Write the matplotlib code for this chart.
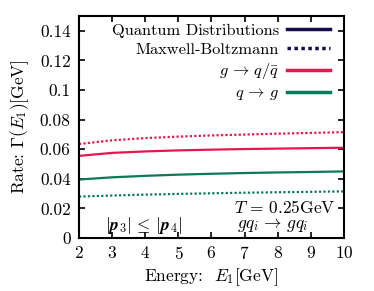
import matplotlib
matplotlib.use("Agg")
import matplotlib.pyplot as plt

plt.rcParams['font.family'] = 'serif'
plt.rcParams['font.serif'] = ['cmr10']
plt.rcParams['mathtext.fontset'] = 'cm'
plt.rcParams['axes.formatter.use_mathtext'] = True

# energies E1 [GeV]
energy = [2, 3, 4, 5, 6, 7, 8, 9, 10]
# g -> q/qbar
gq_quantum = [0.0555, 0.0575, 0.0585, 0.0592, 0.0597, 0.0601, 0.0604, 0.0607, 0.0610]
gq_mb = [0.0635, 0.0660, 0.0675, 0.0685, 0.0693, 0.0699, 0.0705, 0.0710, 0.0715]
# q -> g
qg_quantum = [0.0395, 0.0410, 0.0420, 0.0428, 0.0434, 0.0439, 0.0443, 0.0446, 0.0450]
qg_mb = [0.0280, 0.0287, 0.0293, 0.0298, 0.0302, 0.0306, 0.0309, 0.0312, 0.0315]

yticks = [0, 0.02, 0.04, 0.06, 0.08, 0.1, 0.12, 0.14]
ylabels = ['0', '0.02', '0.04', '0.06', '0.08', '0.1', '0.12', '0.14']

navy = '#170a4a'
red = '#e8164d'
green = '#0b7a55'
fs = 12.5
fs_small = 11.8

fig = plt.figure(figsize=(3.74, 2.91), dpi=100)
ax = fig.add_axes([79/374, 1 - 238/291, 265/374, 222/291])

ax.plot(energy, gq_quantum, color=red, lw=1.6)
ax.plot(energy, gq_mb, color=red, lw=1.6, ls=(0, (1, 1)))
ax.plot(energy, qg_quantum, color=green, lw=1.6)
ax.plot(energy, qg_mb, color=green, lw=1.6, ls=(0, (1, 1)))

# legend proxies
h1, = ax.plot([], [], color=navy, lw=2.5, label='Quantum Distributions')
h2, = ax.plot([], [], color=navy, lw=2.5, ls=(0, (1, 1)), label='Maxwell-Boltzmann')
h3, = ax.plot([], [], color=red, lw=2.5, label=r'$g\,\to\,q/\bar{q}$')
h4, = ax.plot([], [], color=green, lw=2.5, label=r'$q\,\to\,g$')
ax.legend(handles=[h1, h2, h3, h4], loc='upper right', frameon=False,
          markerfirst=False, fontsize=fs_small, handlelength=2.6,
          labelspacing=0.28, borderaxespad=0, handletextpad=0.5,
          borderpad=0.3, bbox_to_anchor=(0.965, 0.99))

ax.set_xlim(2, 10)
ax.set_ylim(0, 0.15)
ax.set_yticks(yticks)
ax.set_yticklabels(ylabels)
ax.set_xticks(energy)
ax.tick_params(direction='in', top=True, right=True, length=4, width=1.2,
               labelsize=fs, pad=6)
ax.tick_params(axis='x', pad=5)
for s in ax.spines.values():
    s.set_linewidth(1.5)

ax.text(9.75, 0.0205, r'$T\,=\,0.25$GeV', ha='right', va='center', fontsize=fs)
ax.text(6.77, 0.0085, r'$gq_i\,\to\,gq_i$', ha='left', va='center', fontsize=fs)
ax.text(2.78, 0.0085, r'$|\boldsymbol{p}_3|\,\leq\,|\boldsymbol{p}_4|$', ha='left',
        va='center', fontsize=fs)

ax.set_xlabel(r'Energy:  $E_1$[GeV]', fontsize=fs, labelpad=3)
ax.set_ylabel(r'Rate: $\Gamma(E_1)$[GeV]', fontsize=fs, labelpad=6)

fig.savefig('out.png', dpi=100)
